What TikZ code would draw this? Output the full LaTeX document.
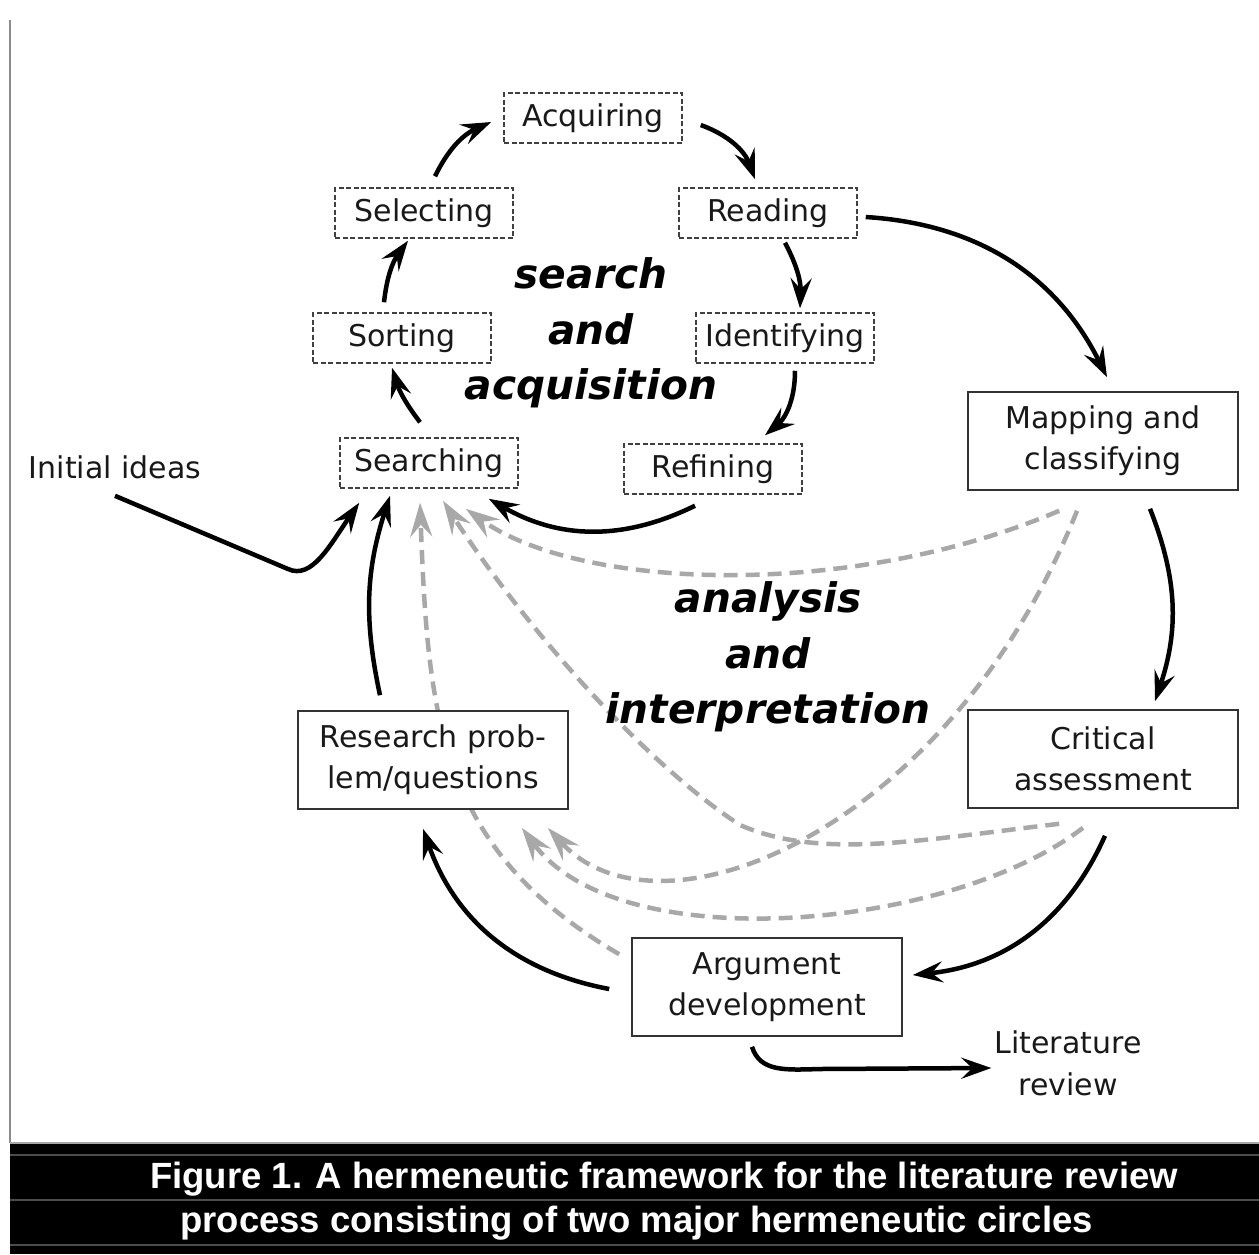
\documentclass[tikz,border=0pt]{standalone}
\usepackage{fontspec}
\setmainfont{DejaVu Sans}
\newfontfamily\capfont{Liberation Sans}
\usetikzlibrary{arrows.meta,backgrounds}

\begin{document}
\begin{tikzpicture}
	[x=1pt, y=-1pt,
	stage/.style={draw=black!75, dash pattern=on 5pt off 2.5pt, line width=1.5pt, fill=white, minimum width=178pt, minimum height=50pt, inner sep=0pt, text=black!90, font=\fontsize{30}{41}\selectfont},
	phase/.style={draw=black!80, line width=1.6pt, fill=white, minimum width=270pt, minimum height=98pt, inner sep=0pt, align=center, text=black!90, font=\fontsize{30}{41}\selectfont},
	freetext/.style={inner sep=0pt, align=center, text=black!90, font=\fontsize{30}{42}\selectfont},
	theme/.style={inner sep=0pt, align=center, font=\fontsize{40.7}{55.5}\selectfont\bfseries\itshape},
	caption line/.style={inner sep=0pt, anchor=base west, text=white, font=\capfont\bfseries\fontsize{36.5}{44}\selectfont},
	flow/.style={line width=4.5pt, -{Stealth[length=30pt,width=21pt,inset=11pt]}},
	back flow/.style={line width=4.5pt, black!34, dash pattern=on 14pt off 8pt, -{Stealth[length=34pt,width=22pt,inset=12pt]}}]
	\useasboundingbox (0,0) rectangle (1259,1254);

	\node[stage] (acquiring) at (593,118) {Acquiring};
	\node[stage] (selecting) at (424,213) {Selecting};
	\node[stage] (reading) at (768,213) {Reading};
	\node[stage] (sorting) at (402,338) {Sorting};
	\node[stage] (identifying) at (785,338) {Identifying};
	\node[stage] (searching) at (429,463) {Searching};
	\node[stage] (refining) at (713,469) {Refining};

	\node[phase] (mapping) at (1103,441) {Mapping and\\classifying};
	\node[phase] (critical) at (1103,759) {Critical\\assessment};
	\node[phase] (research) at (433,760) {Research prob-\\lem/questions};
	\node[phase] (argument) at (767,987) {Argument\\development};

	\node[freetext] (initial) at (115,467) {Initial ideas};
	\node[freetext] (literature) at (1068,1063) {Literature\\review};
	\node[theme] (search) at (591,333) {search\\and\\acquisition};
	\node[theme] (analysis) at (768,657) {analysis\\and\\interpretation};

	% inner circle
	\draw[flow] ([xshift=11pt,yshift=11pt]selecting.north) to[bend left=20] ([xshift=-12pt,yshift=-4pt]acquiring.west);
	\draw[flow] ([xshift=18pt,yshift=-7pt]acquiring.east) to[bend left=25] ([xshift=-13pt,yshift=8pt]reading.north);
	\draw[flow] ([xshift=17pt,yshift=-4pt]reading.south) to[bend left=15] ([xshift=15pt,yshift=4pt]identifying.north);
	\draw[flow] ([xshift=10pt,yshift=-7pt]identifying.south) to[bend left=25] ([xshift=52pt,yshift=8pt]refining.north);
	\draw[flow] ([xshift=-18pt,yshift=-11pt]refining.south) to[bend left=28] ([xshift=-30pt,yshift=-10pt]searching.south east);
	\draw[flow] ([xshift=-9pt,yshift=15pt]searching.north) to[bend left=10] ([xshift=-10pt,yshift=-4pt]sorting.south);
	\draw[flow] ([xshift=-18pt,yshift=10pt]sorting.north) to[bend left=15] ([xshift=-16pt,yshift=-2pt]selecting.south);

	% outer circle
	\draw[flow] ([xshift=8pt,yshift=-4pt]reading.east) to[bend left=30] ([xshift=4pt,yshift=14pt]mapping.north);
	\draw[flow] ([xshift=47pt,yshift=-18pt]mapping.south) to[bend left=20] ([xshift=52pt,yshift=8pt]critical.north);
	\draw[flow] ([xshift=2pt,yshift=-27pt]critical.south) to[bend left=30] ([xshift=10pt,yshift=12pt]argument.east);
	\draw[flow] ([xshift=-22pt,yshift=-2pt]argument.west) to[bend left=30] ([xshift=-10pt,yshift=-19pt]research.south);
	\draw[flow] ([xshift=-53pt,yshift=15pt]research.north) to[bend left=15] ([xshift=-39pt,yshift=-7pt]searching.south);
	\draw[flow] ([yshift=-17pt]initial.south) -- (288,569) .. controls (312,580) and (330,545) .. ([xshift=20pt,yshift=-14pt]searching.south west);
	\draw[flow] ([xshift=-15pt,yshift=-10pt]argument.south) .. controls (760,1072) and (785,1070) .. (820,1069) -- ([xshift=-3pt,yshift=-5pt]literature.west);

	\begin{scope}[on background layer]
		\draw[back flow] ([xshift=-12pt,yshift=-17pt]argument.north west) .. controls (440,850) and (428,720) .. ([xshift=-9pt,yshift=-14pt]searching.south);
		\draw[back flow] ([xshift=92pt,yshift=-15pt]critical.south west) .. controls (920,840) and (820,860) .. (740,825) .. controls (640,760) and (520,620) .. ([xshift=14pt,yshift=-12pt]searching.south);
		\draw[back flow] ([xshift=92pt,yshift=-20pt]mapping.south west) .. controls (850,600) and (580,590) .. ([xshift=-53pt,yshift=-20pt]searching.south east);
		\draw[back flow] ([xshift=-20pt,yshift=-19pt]critical.south) .. controls (950,930) and (620,960) .. ([xshift=-47pt,yshift=-18pt]research.south east);
		\draw[back flow] ([xshift=-26pt,yshift=-20pt]mapping.south) .. controls (950,830) and (660,950) .. ([xshift=-21pt,yshift=-18pt]research.south east);
	\end{scope}

	% caption band
	\draw[black!45, line width=2pt] (10,20) -- (10,1143);
	\fill (10,1143) rectangle (1259,1254);
	\draw[black!35, line width=1.5pt] (10,1143) -- (1259,1143);
	\foreach \y in {1155,1200,1245}
		\draw[black!70, line width=1.2pt] (10,\y) -- (1259,\y);
	\node[caption line] (caption top) at (150,1188) {Figure 1. A hermeneutic framework for the literature review};
	\node[caption line] (caption bottom) at (180,1232) {process consisting of two major hermeneutic circles};
\end{tikzpicture}
\end{document}
